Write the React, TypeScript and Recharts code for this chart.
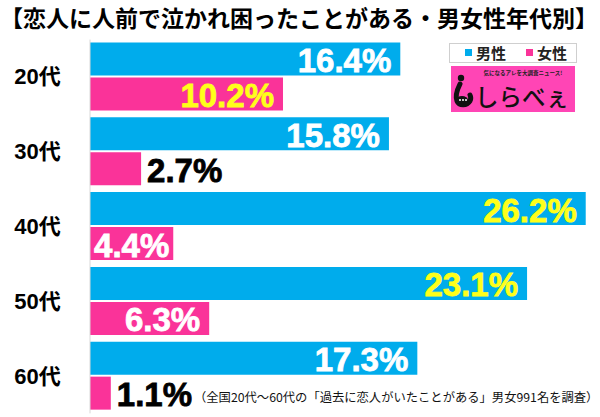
import React from 'react';
import { BarChart, Bar, XAxis, YAxis, LabelList } from 'recharts';

const titleText = '【恋人に人前で泣かれ困ったことがある・男女性年代別】';
const categories = ['20代', '30代', '40代', '50代', '60代'];
const maleValues = [16.4, 15.8, 26.2, 23.1, 17.3];
const femaleValues = [10.2, 2.7, 4.4, 6.3, 1.1];
const seriesNames = ['男性', '女性'];
const noteText = '（全国20代～60代の「過去に恋人がいたことがある」男女991名を調査）';
const logoTagline = '気になるアレを大調査ニュース!';
const logoText = 'しらべぇ';

const BLUE = '#00acec';
const PINK = '#fa3399';
const YELLOW = '#ffff1a';
const WHITE = '#ffffff';

const maleLabelColors = [WHITE, WHITE, YELLOW, YELLOW, WHITE];
const femaleLabelColors = [YELLOW, '#000000', WHITE, WHITE, '#000000'];

const data = categories.map((c, i) => ({ cat: c, male: maleValues[i], female: femaleValues[i] }));

const LABEL_FONT = '"Liberation Sans", Arial, sans-serif';

const makeLabel = (colors: string[]) => (props: any) => {
  const { x, y, width, height, value, index } = props;
  const outside = width < 80;
  const tx = outside ? x + width + 6 : x + width - (Number(value) < 5 ? 4 : 9);
  const fill = outside ? '#000000' : colors[index];
  return (
    <text
      x={tx}
      y={y + height / 2 + 1.5}
      textAnchor={outside ? 'start' : 'end'}
      dominantBaseline="central"
      fill={fill}
      stroke={fill}
      strokeWidth={0.8}
      fontSize={33}
      fontWeight="bold"
      fontFamily={LABEL_FONT}
    >
      {Number(value).toFixed(1)}%
    </text>
  );
};

const CatTick = (props: any) => {
  const { y, payload } = props;
  return (
    <text
      x={37.5}
      y={y}
      textAnchor="middle"
      dominantBaseline="central"
      fontSize={22}
      fontWeight="bold"
      fill="#000"
      fontFamily={'"Liberation Sans", "Noto Sans CJK JP", sans-serif'}
    >
      {payload.value}
    </text>
  );
};

export default function App() {
  return (
    <div style={{ position: 'absolute', left: 0, top: 0, width: 600, height: 417, background: '#fff', overflow: 'hidden' }}>
      <div
        style={{
          position: 'absolute',
          left: 0,
          top: 0,
          width: 600,
          height: 35,
          lineHeight: '35px',
          fontSize: 23,
          fontWeight: 700,
          fontFamily: '"Noto Sans CJK JP", sans-serif',
          color: '#000',
          whiteSpace: 'nowrap',
          letterSpacing: 0,
        }}
      >
        {titleText}
      </div>
      <BarChart
        width={600}
        height={417}
        layout="vertical"
        data={data}
        margin={{ top: 39.6, right: 8.6, bottom: 3.6, left: 0 }}
        barSize={33}
        barGap={2}
      >
        <XAxis type="number" domain={[0, 26.5]} hide />
        <YAxis
          type="category"
          dataKey="cat"
          width={90}
          axisLine={{ stroke: '#d8d8d8', strokeWidth: 1 }}
          tickLine={false}
          tick={<CatTick />}
        />
        <Bar dataKey="male" name={seriesNames[0]} fill={BLUE} isAnimationActive={false}>
          <LabelList dataKey="male" content={makeLabel(maleLabelColors)} />
        </Bar>
        <Bar dataKey="female" name={seriesNames[1]} fill={PINK} isAnimationActive={false}>
          <LabelList dataKey="female" content={makeLabel(femaleLabelColors)} />
        </Bar>
      </BarChart>
      {/* legend */}
      <div
        style={{
          position: 'absolute',
          left: 449,
          top: 43,
          width: 126,
          height: 18,
          border: '1px solid #cfcfcf',
          background: '#fff',
          fontFamily: '"Noto Sans CJK JP", sans-serif',
          fontWeight: 700,
          fontSize: 15,
          lineHeight: '18px',
          color: '#222',
        }}
      >
        <span style={{ position: 'absolute', left: 15, top: 5, width: 7, height: 7, background: BLUE }} />
        <span style={{ position: 'absolute', left: 26, top: 0 }}>{seriesNames[0]}</span>
        <span style={{ position: 'absolute', left: 76, top: 5, width: 7, height: 7, background: PINK }} />
        <span style={{ position: 'absolute', left: 87, top: 0 }}>{seriesNames[1]}</span>
      </div>
      {/* logo */}
      <div style={{ position: 'absolute', left: 451, top: 66, width: 124, height: 46, background: '#ff45b5' }}>
        <svg width={124} height={46} style={{ position: 'absolute', left: 0, top: 0 }}>
          <circle cx={10} cy={12} r={3.2} fill="#111" />
          <path d="M9 18 C6 24, 4 30, 6 35 C8 40, 16 40, 19 35 C20 33, 20 31, 19 29" stroke="#111" strokeWidth={5} fill="none" strokeLinecap="round" />
          <ellipse cx={11} cy={34} rx={6} ry={4} fill="#111" />
          <circle cx={9} cy={34} r={1} fill="#fff" />
          <circle cx={12} cy={34} r={1} fill="#fff" />
          <circle cx={15} cy={34} r={1} fill="#fff" />
          <text x={72} y={9} textAnchor="middle" fontSize={5.5} fontWeight="bold" fill="#222" fontFamily='"Noto Sans CJK JP", sans-serif'>
            {logoTagline}
          </text>
          <text x={24} y={40} fontSize={23.5} fill="#111" fontFamily='"Noto Sans CJK JP", sans-serif' fontWeight={500}>
            {logoText}
          </text>
        </svg>
      </div>
      {/* note */}
      <div
        style={{
          position: 'absolute',
          left: 194,
          top: 388,
          height: 18,
          lineHeight: '18px',
          fontSize: 12.3,
          fontFamily: '"Noto Sans CJK JP", sans-serif',
          color: '#111',
          whiteSpace: 'nowrap',
        }}
      >
        {noteText}
      </div>
    </div>
  );
}
